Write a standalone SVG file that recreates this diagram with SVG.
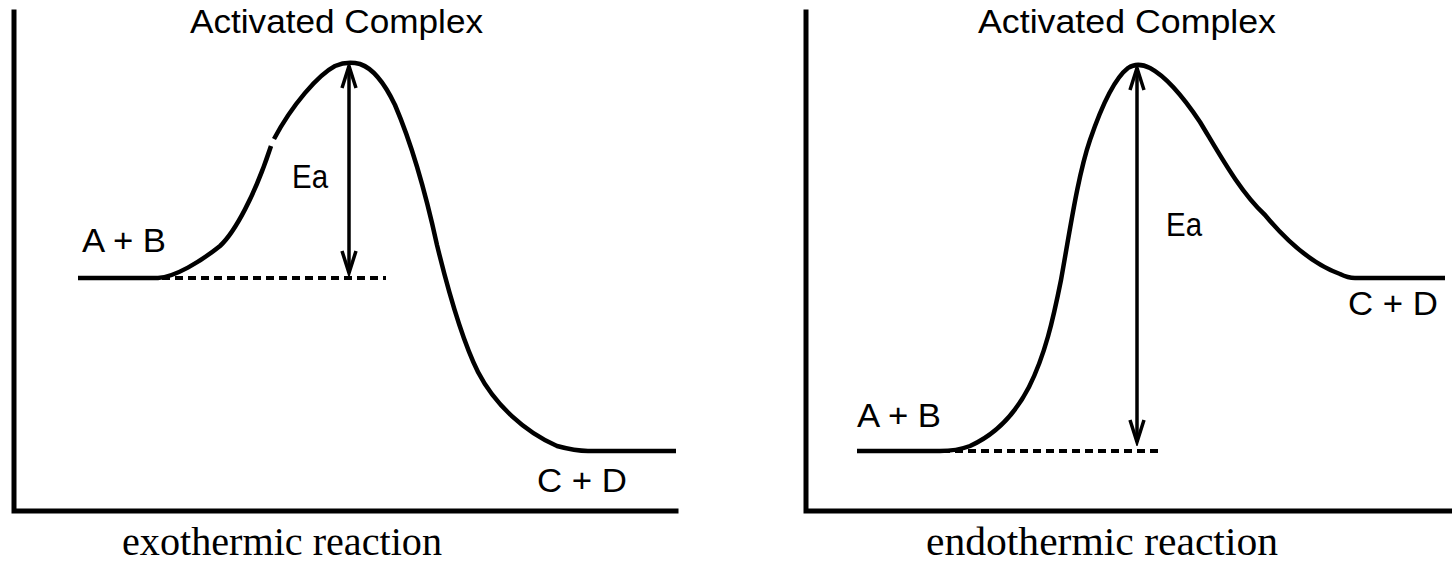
<svg xmlns="http://www.w3.org/2000/svg" width="1452" height="563" viewBox="0 0 1452 563">
<style>
.axis{stroke:#000;stroke-width:5;fill:none;stroke-linecap:square}
.curve{stroke:#000;stroke-width:4.5;fill:none;stroke-linejoin:round}
.dash{stroke:#000;stroke-width:4;fill:none;stroke-dasharray:8 5}
.arrow{stroke:#000;stroke-width:3.5;fill:none}
.lbl{font-family:"Liberation Sans",Arial,sans-serif;font-size:33px;fill:#000}
.cap{font-family:"Liberation Serif","Times New Roman",serif;font-size:40px;fill:#000}
</style>
<defs>
<marker id="head" markerUnits="userSpaceOnUse" viewBox="-26 -12 30 24" refX="0" refY="0" markerWidth="30" markerHeight="24" orient="auto-start-reverse">
<path d="M-22,-7 L0,0 L-22,7" fill="none" stroke="#000" stroke-width="3.5" stroke-linejoin="miter"/>
</marker>
</defs>
<rect width="1452" height="563" fill="#fff"/>
<g id="exothermic">
<g id="exo-axes">
<path class="axis" d="M14,12 V511 H676"/>
</g>
<g id="exo-curve">
<path class="curve" d="M78,278 H158 C175,277 200,262 220,246 C235,232 255,195 271,146"/>
<path class="curve" d="M274,139 C292,105 318,75 335,66 C342,63 352,62 360,64 C372,68 384,82 395,105 C410,140 425,190 437,245 C448,290 462,340 478,372 C495,405 525,432 557,446 C568,449 578,451 588,451 H676"/>
</g>
<g id="exo-labels">
<text class="lbl" x="190" y="33" textLength="293" lengthAdjust="spacingAndGlyphs">Activated Complex</text>
<text class="lbl" x="292" y="188" textLength="36" lengthAdjust="spacingAndGlyphs">Ea</text>
<text class="lbl" x="82" y="252" textLength="84" lengthAdjust="spacingAndGlyphs">A + B</text>
<text class="lbl" x="537" y="492" textLength="90" lengthAdjust="spacingAndGlyphs">C + D</text>
<text class="cap" x="122" y="555" textLength="320" lengthAdjust="spacingAndGlyphs">exothermic reaction</text>
</g>
</g>
<g id="endothermic">
<g id="endo-axes">
<path class="axis" d="M806,12 V511 H1452"/>
</g>
<g id="endo-curve">
<path class="curve" d="M857,451 H940 C952,451 962,449 970,446 C990,437 1012,420 1029,387 C1045,355 1053,320 1061,280 C1070,230 1078,175 1090,140 C1102,105 1115,78 1128,68 C1134,64 1142,64 1150,68 C1165,76 1182,95 1200,122 C1220,155 1240,192 1265,215 C1290,245 1315,265 1340,274 C1346,277 1350,278 1355,278 H1445"/>
</g>
<g id="endo-labels">
<text class="lbl" x="978" y="33" textLength="298" lengthAdjust="spacingAndGlyphs">Activated Complex</text>
<text class="lbl" x="1166" y="236" textLength="36" lengthAdjust="spacingAndGlyphs">Ea</text>
<text class="lbl" x="857" y="427" textLength="84" lengthAdjust="spacingAndGlyphs">A + B</text>
<text class="lbl" x="1348" y="315" textLength="90" lengthAdjust="spacingAndGlyphs">C + D</text>
<text class="cap" x="926" y="555" textLength="352" lengthAdjust="spacingAndGlyphs">endothermic reaction</text>
</g>
</g>
<g id="connectors">
<path class="dash" d="M162,278 H386"/>
<path class="dash" d="M942,451 H1163"/>
<line class="arrow" x1="349" y1="66" x2="349" y2="273" marker-start="url(#head)" marker-end="url(#head)"/>
<line class="arrow" x1="1137" y1="68" x2="1137" y2="442" marker-start="url(#head)" marker-end="url(#head)"/>
</g>
</svg>
